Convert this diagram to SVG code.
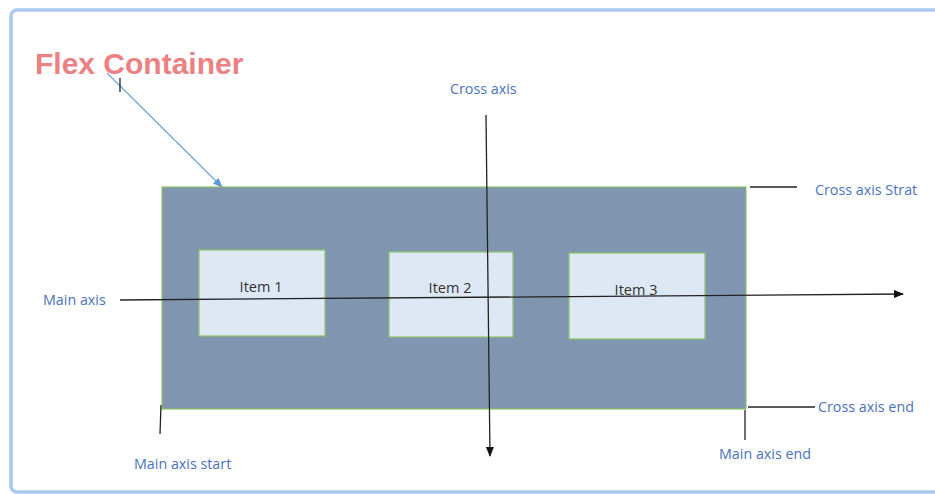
<svg xmlns="http://www.w3.org/2000/svg" width="935" height="494" viewBox="0 0 935 494">
<style>
.lbl{font-family:"Open Sans","Noto Sans",sans-serif;font-size:14.3px;fill:#4a72c0}
.item{fill:#dde8f4;stroke:#8cc466;stroke-width:1.2}
.itxt{font-family:"Open Sans","Noto Sans",sans-serif;font-size:14.5px;fill:#333;text-anchor:middle}
.ln{stroke:#222;stroke-width:1.3;fill:none}
</style>
<defs>
<marker id="ah" markerWidth="10" markerHeight="8" refX="9" refY="4" orient="auto" markerUnits="userSpaceOnUse"><path d="M0,0 L10,4 L0,8 Z" fill="#111"/></marker>
<marker id="ahb" markerWidth="10" markerHeight="8" refX="9" refY="4" orient="auto" markerUnits="userSpaceOnUse"><path d="M0,0 L10,4 L0,8 Z" fill="#5b9bd5"/></marker>
</defs>
<rect x="11" y="10" width="960" height="482" rx="6" fill="#fff" stroke="#a9c9f0" stroke-width="3.5"/>
<g id="title">
<text x="35" y="74" font-family="'Liberation Sans',Arial,sans-serif" font-weight="bold" font-size="30" fill="#ec8082">Flex Container</text>
</g>
<g id="container">
<rect x="162" y="187" width="584" height="222" fill="#8096b0" stroke="#8cc466" stroke-width="1.2"/>
</g>
<g id="item1"><rect class="item" x="199" y="250" width="126" height="86"/><text class="itxt" x="261" y="292">Item 1</text></g>
<g id="item2"><rect class="item" x="389" y="252" width="124" height="85"/><text class="itxt" x="450" y="293">Item 2</text></g>
<g id="item3"><rect class="item" x="569" y="253" width="136" height="86"/><text class="itxt" x="636" y="295">Item 3</text></g>
<g id="connectors">
<line x1="107" y1="73" x2="222" y2="187" stroke="#6fa6d6" stroke-width="1.2" marker-end="url(#ahb)"/>
<line class="ln" x1="120" y1="78" x2="120" y2="92"/>
<line class="ln" x1="120" y1="300" x2="903" y2="294" marker-end="url(#ah)"/>
<line class="ln" x1="486" y1="115" x2="490" y2="456" marker-end="url(#ah)"/>
<line class="ln" x1="750" y1="187" x2="797" y2="187"/>
<line class="ln" x1="748" y1="407" x2="815" y2="407"/>
<line class="ln" x1="745" y1="410" x2="745" y2="440"/>
<line class="ln" x1="161" y1="405" x2="160" y2="434"/>
</g>
<g id="labels">
<text class="lbl" x="450" y="94">Cross axis</text>
<text class="lbl" x="815" y="195">Cross axis Strat</text>
<text class="lbl" x="818" y="412">Cross axis end</text>
<text class="lbl" x="719" y="459">Main axis end</text>
<text class="lbl" x="134" y="469">Main axis start</text>
<text class="lbl" x="43" y="305">Main axis</text>
</g>
</svg>
